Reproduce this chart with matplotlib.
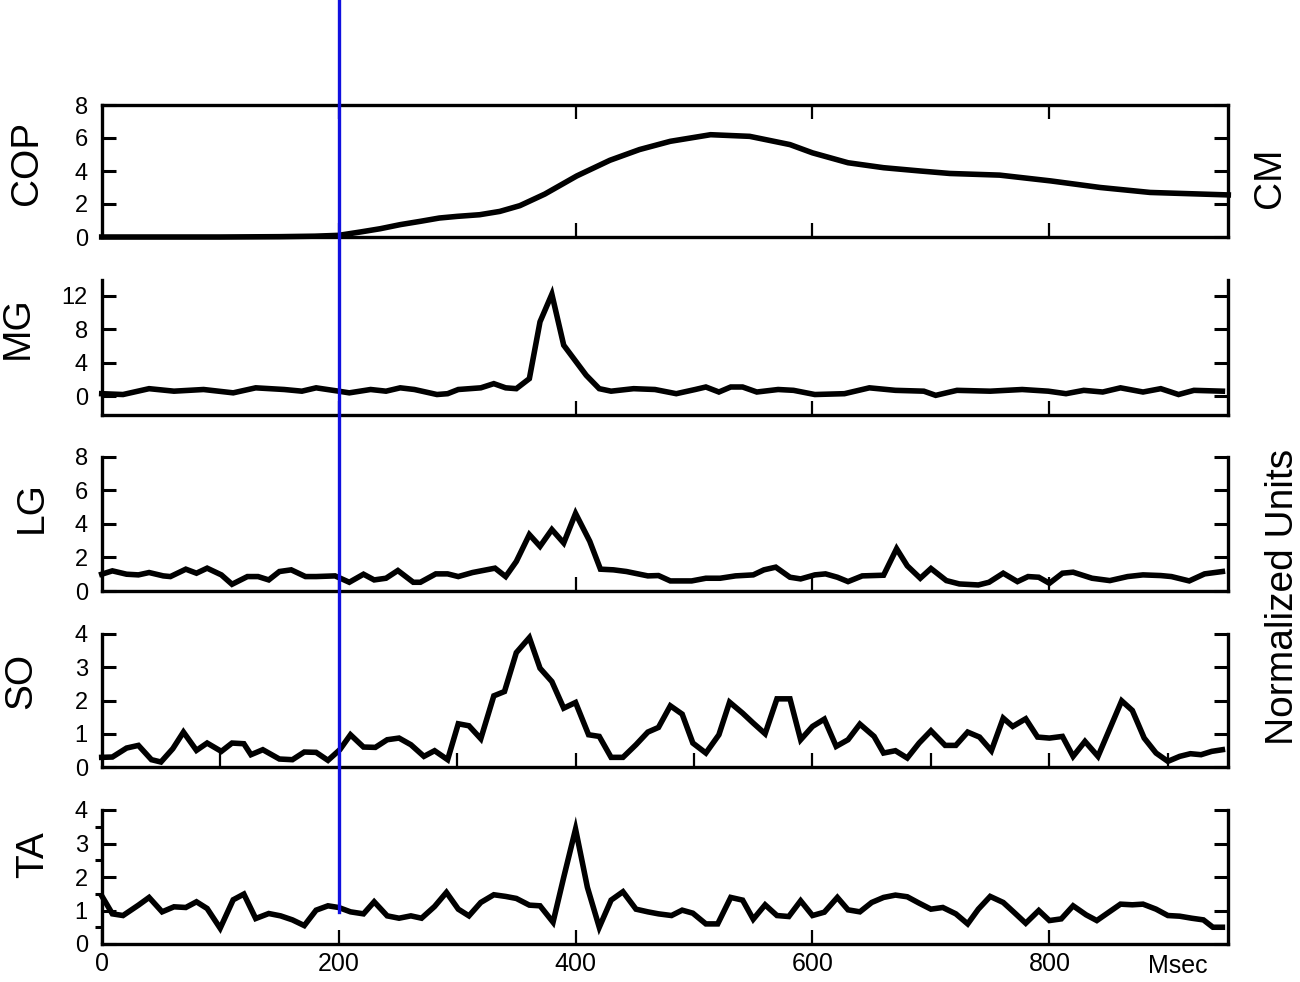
import matplotlib
matplotlib.use("Agg")
import matplotlib.pyplot as plt
from matplotlib.lines import Line2D
from matplotlib.ticker import MultipleLocator
from matplotlib.transforms import blended_transform_factory

plt.rcParams["font.family"] = ["Liberation Sans", "DejaVu Sans"]

# ---- data (time in ms) ----
COP_T = [0, 50, 100, 150, 180, 200, 218, 235, 252, 269, 285, 300, 319, 336, 353, 374,
         401, 429, 454, 480, 514, 547, 581, 600, 630, 660, 691, 716, 758, 801, 843, 885, 951]
COP_V = [0, 0, 0, 0.02, 0.05, 0.1, 0.3, 0.5, 0.75, 0.95, 1.15, 1.25, 1.35, 1.55, 1.9, 2.6,
         3.7, 4.65, 5.3, 5.8, 6.2, 6.1, 5.6, 5.1, 4.5, 4.2, 4.0, 3.85, 3.75, 3.4, 3.0, 2.7, 2.55]

MG_T = [0, 18, 40, 61, 86, 111, 130, 154, 169, 181, 200, 209, 227, 240, 252, 264, 283, 292,
        301, 320, 331, 341, 350, 361, 370, 380, 390, 409, 420, 430, 449, 467, 485, 501, 510,
        521, 531, 541, 553, 571, 584, 602, 627, 648, 670, 694, 704, 722, 750, 777, 799, 814,
        829, 845, 860, 879, 894, 909, 922, 946]
MG_V = [0.3, 0.2, 0.9, 0.6, 0.8, 0.4, 1.0, 0.8, 0.6, 1.0, 0.6, 0.4, 0.8, 0.6, 1.0, 0.8, 0.2, 0.3,
        0.8, 1.0, 1.5, 1.0, 0.9, 2.1, 8.9, 12.2, 6.1, 2.5, 0.9, 0.6, 0.9, 0.8, 0.3, 0.8, 1.1,
        0.5, 1.1, 1.1, 0.5, 0.8, 0.7, 0.2, 0.3, 1.0, 0.7, 0.6, 0.1, 0.7, 0.6, 0.8, 0.6, 0.3,
        0.7, 0.5, 1.0, 0.5, 0.9, 0.2, 0.7, 0.6]

LG_T = [0, 9, 21, 31, 40, 52, 58, 71, 80, 89, 101, 110, 123, 132, 141, 150, 160, 172, 181,
        197, 209, 221, 230, 240, 250, 263, 269, 282, 292, 301, 313, 332, 341, 350, 361, 370,
        380, 390, 400, 412, 421, 432, 443, 461, 470, 480, 498, 510, 522, 535, 550, 559, 569,
        581, 590, 602, 611, 621, 630, 642, 660, 671, 680, 691, 700, 713, 724, 740, 749, 761,
        773, 782, 791, 800, 811, 820, 836, 851, 866, 879, 894, 903, 918, 931, 946]
LG_V = [1.0, 1.2, 1.0, 0.96, 1.1, 0.9, 0.86, 1.3, 1.06, 1.36, 0.96, 0.4, 0.86, 0.86, 0.66,
        1.16, 1.26, 0.86, 0.86, 0.9, 0.52, 1.0, 0.66, 0.76, 1.22, 0.52, 0.52, 1.02, 1.02, 0.86,
        1.1, 1.36, 0.86, 1.76, 3.36, 2.66, 3.66, 2.86, 4.62, 2.96, 1.3, 1.26, 1.16, 0.9, 0.92,
        0.6, 0.6, 0.76, 0.76, 0.9, 0.96, 1.26, 1.42, 0.82, 0.72, 0.96, 1.02, 0.82, 0.56, 0.9,
        0.94, 2.52, 1.5, 0.76, 1.34, 0.62, 0.42, 0.36, 0.52, 1.06, 0.56, 0.86, 0.82, 0.46,
        1.06, 1.12, 0.76, 0.62, 0.86, 0.96, 0.92, 0.86, 0.6, 1.02, 1.16]

SO_T = [0, 9, 21, 31, 42, 50, 60, 69, 80, 89, 101, 110, 120, 126, 136, 150, 161, 171, 181,
        191, 201, 210, 221, 231, 241, 251, 261, 272, 281, 292, 301, 310, 320, 331, 340, 350,
        361, 370, 380, 390, 400, 411, 420, 430, 440, 451, 461, 470, 480, 490, 499, 510, 521,
        530, 541, 550, 560, 570, 581, 590, 600, 610, 620, 630, 640, 652, 660, 670, 680, 690,
        700, 712, 721, 731, 741, 751, 761, 769, 780, 790, 800, 811, 820, 830, 841, 850, 861,
        870, 880, 890, 900, 910, 919, 928, 937, 946]
SO_V = [0.29, 0.3, 0.57, 0.65, 0.22, 0.15, 0.55, 1.05, 0.5, 0.72, 0.47, 0.72, 0.7, 0.37,
        0.52, 0.24, 0.22, 0.45, 0.44, 0.2, 0.52, 0.97, 0.6, 0.59, 0.82, 0.87, 0.67, 0.32, 0.49,
        0.22, 1.3, 1.24, 0.85, 2.14, 2.27, 3.44, 3.89, 2.97, 2.57, 1.77, 1.94, 0.97, 0.92, 0.29,
        0.29, 0.67, 1.05, 1.19, 1.84, 1.59, 0.72, 0.42, 0.97, 1.95, 1.62, 1.32, 1.0, 2.05, 2.05,
        0.82, 1.22, 1.44, 0.62, 0.82, 1.29, 0.92, 0.42, 0.49, 0.27, 0.72, 1.09, 0.65, 0.65,
        1.05, 0.9, 0.49, 1.47, 1.22, 1.45, 0.9, 0.87, 0.92, 0.32, 0.77, 0.32, 1.07, 1.99, 1.7,
        0.87, 0.42, 0.17, 0.32, 0.4, 0.37, 0.47, 0.52]

TA_T = [0, 9, 18, 31, 40, 51, 61, 71, 80, 89, 100, 111, 120, 130, 141, 151, 161, 171, 181,
        191, 200, 210, 221, 230, 241, 251, 261, 270, 281, 291, 301, 310, 320, 331, 341, 350,
        361, 370, 381, 390, 400, 410, 420, 430, 440, 451, 461, 470, 481, 490, 499, 510, 520,
        531, 541, 550, 560, 570, 580, 590, 600, 610, 621, 630, 640, 650, 660, 670, 680, 690,
        700, 710, 721, 731, 740, 750, 761, 770, 780, 791, 800, 810, 820, 831, 840, 851, 860,
        870, 879, 890, 900, 910, 920, 930, 938, 946]
TA_V = [1.44, 0.9, 0.85, 1.16, 1.39, 0.96, 1.11, 1.09, 1.26, 1.06, 0.47, 1.32, 1.49, 0.76,
        0.91, 0.84, 0.72, 0.55, 1.01, 1.14, 1.09, 0.96, 0.9, 1.26, 0.84, 0.77, 0.84, 0.77, 1.12,
        1.54, 1.04, 0.84, 1.24, 1.47, 1.42, 1.36, 1.16, 1.14, 0.65, 1.99, 3.43, 1.69, 0.5, 1.31,
        1.56, 1.04, 0.96, 0.9, 0.85, 1.01, 0.92, 0.6, 0.6, 1.39, 1.31, 0.74, 1.17, 0.85, 0.82,
        1.29, 0.85, 0.95, 1.39, 1.02, 0.96, 1.24, 1.39, 1.46, 1.41, 1.22, 1.04, 1.09, 0.9, 0.6,
        1.04, 1.42, 1.24, 0.95, 0.62, 1.0, 0.7, 0.75, 1.14, 0.87, 0.7, 0.97, 1.19, 1.17, 1.19,
        1.04, 0.85, 0.83, 0.77, 0.72, 0.5, 0.5]

EVENT_MS = 200
XMAX = 951

W, H = 1300, 982
fig = plt.figure(figsize=(W / 100, H / 100), dpi=100)


def rect(top, bot, left=101.7, right=1228.3):
    return [left / W, 1 - bot / H, (right - left) / W, (bot - top) / H]


panels = [
    # name, t, v, (top, bottom px), ylim, yticks, x ticks, label pos (x, y px)
    ("COP", COP_T, COP_V, (105, 237), (0, 8), [0, 2, 4, 6, 8], [200, 400, 600, 800], (27, 163)),
    ("MG", MG_T, MG_V, (280, 415), (-2.25, 13.9), [0, 4, 8, 12], [200, 400, 600, 800], (18, 328)),
    ("LG", LG_T, LG_V, (456.7, 591), (0, 8), [0, 2, 4, 6, 8], [200, 400, 600, 800], (32, 507)),
    ("SO", SO_T, SO_V, (634, 767), (0, 4), [0, 1, 2, 3, 4], list(range(100, 901, 100)), (21, 681)),
    ("TA", TA_T, TA_V, (810, 944), (0, 4), [0, 1, 2, 3, 4], [0, 200, 400, 600, 800], (33, 855)),
]

axes = []
for i, (name, t, v, (top, bot), ylim, yt, xt, (lx, ly)) in enumerate(panels):
    ax = fig.add_axes(rect(top, bot))
    ax.plot(t, v, color="black", lw=4.0, solid_joinstyle="miter", clip_on=False)
    ax.set_xlim(0, XMAX)
    ax.set_ylim(*ylim)
    ax.set_yticks(yt)
    ax.set_xticks(xt)
    for s in ax.spines.values():
        s.set_linewidth(2.4)
    ax.spines["top"].set_visible(i == 0)
    ax.tick_params(axis="y", which="major", direction="in", length=10, width=2.2,
                   left=True, right=True, labelsize=17, pad=10)
    ax.tick_params(axis="x", which="major", direction="in", length=10, width=1.6,
                   top=(i == 0), bottom=True, labelbottom=(i == 4), labelsize=18, pad=6)
    fig.text(lx / W, 1 - ly / H, name, rotation=90, fontsize=28, ha="center", va="center")
    axes.append(ax)

# half-unit ticks on the TA left axis
ta = axes[-1]
ta.yaxis.set_minor_locator(MultipleLocator(0.5))
ta.tick_params(axis="y", which="minor", direction="out", length=5, width=2.2,
               left=True, right=False)

# right-hand labels
fig.text(1270 / W, 1 - 178 / H, "CM", rotation=90, fontsize=28, ha="center", va="center")
fig.text(1283 / W, 1 - 597 / H, "Normalized Units", rotation=90, fontsize=28,
         ha="center", va="center")
fig.text(1178 / W, 1 - 966 / H, "Msec", fontsize=18, ha="center", va="center")

# event marker running from the figure top down into the TA panel
bot_disp = ta.transData.transform((EVENT_MS, 0.95))
bot_fig = fig.transFigure.inverted().transform(bot_disp)[1]
trans = blended_transform_factory(axes[0].transData, fig.transFigure)
fig.add_artist(Line2D([EVENT_MS, EVENT_MS], [1.0, bot_fig], transform=trans,
                      color="#1010E0", lw=2.4, zorder=10))

fig.savefig("out.png", dpi=100, facecolor="white")
